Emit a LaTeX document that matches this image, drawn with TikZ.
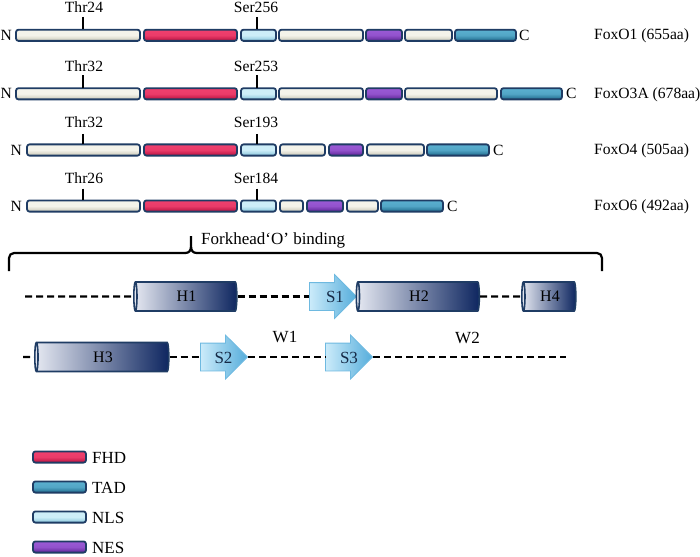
\documentclass[tikz,border=0pt]{standalone}
\usepackage{fontspec}
\setmainfont{Liberation Serif}
\usetikzlibrary{shapes.geometric,shapes.arrows}
\definecolor{navy}{HTML}{1F3C64}
\definecolor{creamL}{HTML}{F4F3EA}
\definecolor{creamD}{HTML}{C9C7B6}
\definecolor{fhdL}{HTML}{F0406E}
\definecolor{fhdD}{HTML}{B8113F}
\definecolor{nlsL}{HTML}{CDEEF8}
\definecolor{nlsD}{HTML}{86C4DA}
\definecolor{nesL}{HTML}{9B5AD6}
\definecolor{nesD}{HTML}{5E2495}
\definecolor{tadL}{HTML}{5BB0D0}
\definecolor{tadD}{HTML}{1F6A8C}
\definecolor{hxL}{HTML}{E6E9F2}
\definecolor{hxD}{HTML}{0E2660}
\definecolor{arL}{HTML}{CBEBFA}
\definecolor{arD}{HTML}{55ADDB}
\tikzset{
  box/.style={draw=navy, line width=1.8pt, rounded corners=2.5pt},
  cream/.style={top color=creamL, bottom color=creamD, middle color=creamL},
  fhd/.style={top color=fhdL, bottom color=fhdD, middle color=fhdL!90!fhdD},
  nls/.style={top color=nlsL, bottom color=nlsD, middle color=nlsL},
  nes/.style={top color=nesL, bottom color=nesD, middle color=nesL!85!nesD},
  tad/.style={top color=tadL, bottom color=tadD, middle color=tadL!85!tadD},
  txt/.style={font=\fontsize{15.6}{18}\selectfont, inner sep=0pt, text=black},
  lbl/.style={txt, anchor=base},
  tick/.style={line width=1.4pt, black},
  helix/.style={cylinder, shape border rotate=180, aspect=0.3, draw=navy, line width=1.6pt,
    left color=hxL, right color=hxD, minimum width=29pt, inner sep=0pt,
    font=\fontsize{16}{19}\selectfont, text=black},
  strand/.style={single arrow, draw=arD!85!white, line width=0.8pt, left color=arL, right color=arD,
    minimum height=47pt, single arrow head extend=8pt, inner ysep=13.5pt, inner xsep=0pt,
    anchor=tip},
  stxt/.style={font=\fontsize{17}{20}\selectfont, inner sep=0pt, text=navy!70!black},
  loop/.style={dash pattern=on 7pt off 4pt, line width=2.4pt, black},
}
\newcommand\seg[4]{\path[box,#4] (#1+1,#3-5.6) rectangle (#2-1,#3+5.6);}
\begin{document}
\begin{tikzpicture}[x=1pt,y=-1pt]
\useasboundingbox (0,0) rectangle (700,556);

% ---------- FoxO1 ----------
\seg{15}{141}{35.3}{cream}\seg{143}{238}{35.3}{fhd}\seg{240}{277}{35.3}{nls}
\seg{278}{364}{35.3}{cream}\seg{365}{403}{35.3}{nes}\seg{404}{453}{35.3}{cream}\seg{454}{517}{35.3}{tad}
\node[txt,anchor=east] (n1) at (12,35.3) {N};
\node[txt,anchor=west] (c1) at (519,35.3) {C};
\node[txt,anchor=west] (f1) at (594,36) {FoxO1 (655aa)};
\node[lbl] (t1) at (84,12.5) {Thr24};
\node[lbl] (s1) at (256,12.5) {Ser256};
\coordinate (t1b) at (83,29.5); \coordinate (s1b) at (257,29.5);
\draw[tick] (83,17) -- (t1b); \draw[tick] (257,17) -- (s1b);

% ---------- FoxO3A ----------
\seg{15}{141}{93.8}{cream}\seg{143}{238}{93.8}{fhd}\seg{240}{277}{93.8}{nls}
\seg{278}{364}{93.8}{cream}\seg{365}{403}{93.8}{nes}\seg{404}{498}{93.8}{cream}\seg{500}{563}{93.8}{tad}
\node[txt,anchor=east] (n2) at (12,93.8) {N};
\node[txt,anchor=west] (c2) at (566,93.8) {C};
\node[txt,anchor=west] (f2) at (594,94.5) {FoxO3A (678aa)};
\node[lbl] (t2) at (84,71.5) {Thr32};
\node[lbl] (s2) at (256,71.5) {Ser253};
\coordinate (t2b) at (83,88); \coordinate (s2b) at (257,88);
\draw[tick] (83,75.5) -- (t2b); \draw[tick] (257,75.5) -- (s2b);

% ---------- FoxO4 ----------
\seg{26}{141}{150}{cream}\seg{143}{238}{150}{fhd}\seg{240}{277}{150}{nls}
\seg{279}{326}{150}{cream}\seg{328}{364}{150}{nes}\seg{366}{425}{150}{cream}\seg{426}{490}{150}{tad}
\node[txt,anchor=east] (n3) at (22,150) {N};
\node[txt,anchor=west] (c3) at (493,150) {C};
\node[txt,anchor=west] (f3) at (594,150.5) {FoxO4 (505aa)};
\node[lbl] (t3) at (84,127.5) {Thr32};
\node[lbl] (s3) at (256,127.5) {Ser193};
\coordinate (t3b) at (83,144); \coordinate (s3b) at (257,144);
\draw[tick] (83,134) -- (t3b); \draw[tick] (257,134) -- (s3b);

% ---------- FoxO6 ----------
\seg{26}{141}{206}{cream}\seg{143}{238}{206}{fhd}\seg{240}{277}{206}{nls}
\seg{279}{304}{206}{cream}\seg{306}{344}{206}{nes}\seg{346}{379}{206}{cream}\seg{380}{444}{206}{tad}
\node[txt,anchor=east] (n4) at (22,206) {N};
\node[txt,anchor=west] (c4) at (447,206) {C};
\node[txt,anchor=west] (f4) at (594,206.5) {FoxO6 (492aa)};
\node[lbl] (t4) at (84,183) {Thr26};
\node[lbl] (s4) at (256,183) {Ser184};
\coordinate (t4b) at (83,200); \coordinate (s4b) at (257,200);
\draw[tick] (83,188.5) -- (t4b); \draw[tick] (257,188.5) -- (s4b);

% ---------- brace ----------
\draw[line width=2.2pt, rounded corners=5pt] (9,271) -- (9,253) -- (185,253);
\draw[line width=2.2pt] (185,253) .. controls (189,253) and (191,251) .. (191,246) -- (191,236)
  (191,246) .. controls (191,251) and (193,253) .. (197,253);
\draw[line width=2.2pt, rounded corners=5pt] (197,253) -- (602,253) -- (602,271);
\node[anchor=west, font=\fontsize{17}{20}\selectfont, inner sep=0pt] (fob) at (201,240.5) {Forkhead‘O’ binding};

% ---------- secondary structure row 1 ----------
\coordinate (r1s) at (25,296.5);
\node[helix, minimum height=103pt] (H1) at (186.5,296.5) {H1};
\node[strand] (S1) at (357,296.5) {};
\node[stxt] (S1t) at (335,297) {S1};
\node[helix, minimum height=123pt] (H2) at (419,296.5) {H2};
\node[helix, minimum height=54pt] (H4) at (550,296.5) {H4};
\draw[loop] (r1s) -- (H1.west);
\draw[loop] (H1.east) -- (S1.tail);
\draw[loop] (H2.east) -- (H4.west);

% ---------- secondary structure row 2 ----------
\coordinate (r2s) at (23,357);
\coordinate (r2e) at (566,357);
\node[helix, minimum height=134pt] (H3) at (103,357) {H3};
\node[strand] (S2) at (248,357) {};
\node[stxt] (S2t) at (223.5,357.5) {S2};
\node[strand] (S3) at (373,357) {};
\node[stxt] (S3t) at (349,357.5) {S3};
\node[font=\fontsize{17}{20}\selectfont, inner sep=0pt] (W1) at (285,337.5) {W1};
\node[font=\fontsize{17}{20}\selectfont, inner sep=0pt] (W2) at (467.5,338) {W2};
\draw[loop] (r2s) -- (H3.west);
\draw[loop] (H3.east) -- (S2.tail);
\draw[loop] (S2.tip) -- (S3.tail);
\draw[loop] (S3.tip) -- (r2e);

% ---------- legend ----------
\seg{32}{87}{457}{fhd}\seg{32}{87}{487}{tad}\seg{32}{87}{517}{nls}\seg{32}{87}{547}{nes}
\node[anchor=west, font=\fontsize{17}{20}\selectfont, inner sep=0pt] (lf) at (92,458) {FHD};
\node[anchor=west, font=\fontsize{17}{20}\selectfont, inner sep=0pt] (lt) at (92,488) {TAD};
\node[anchor=west, font=\fontsize{17}{20}\selectfont, inner sep=0pt] (ln) at (92,518) {NLS};
\node[anchor=west, font=\fontsize{17}{20}\selectfont, inner sep=0pt] (le) at (92,548) {NES};
\end{tikzpicture}
\end{document}
